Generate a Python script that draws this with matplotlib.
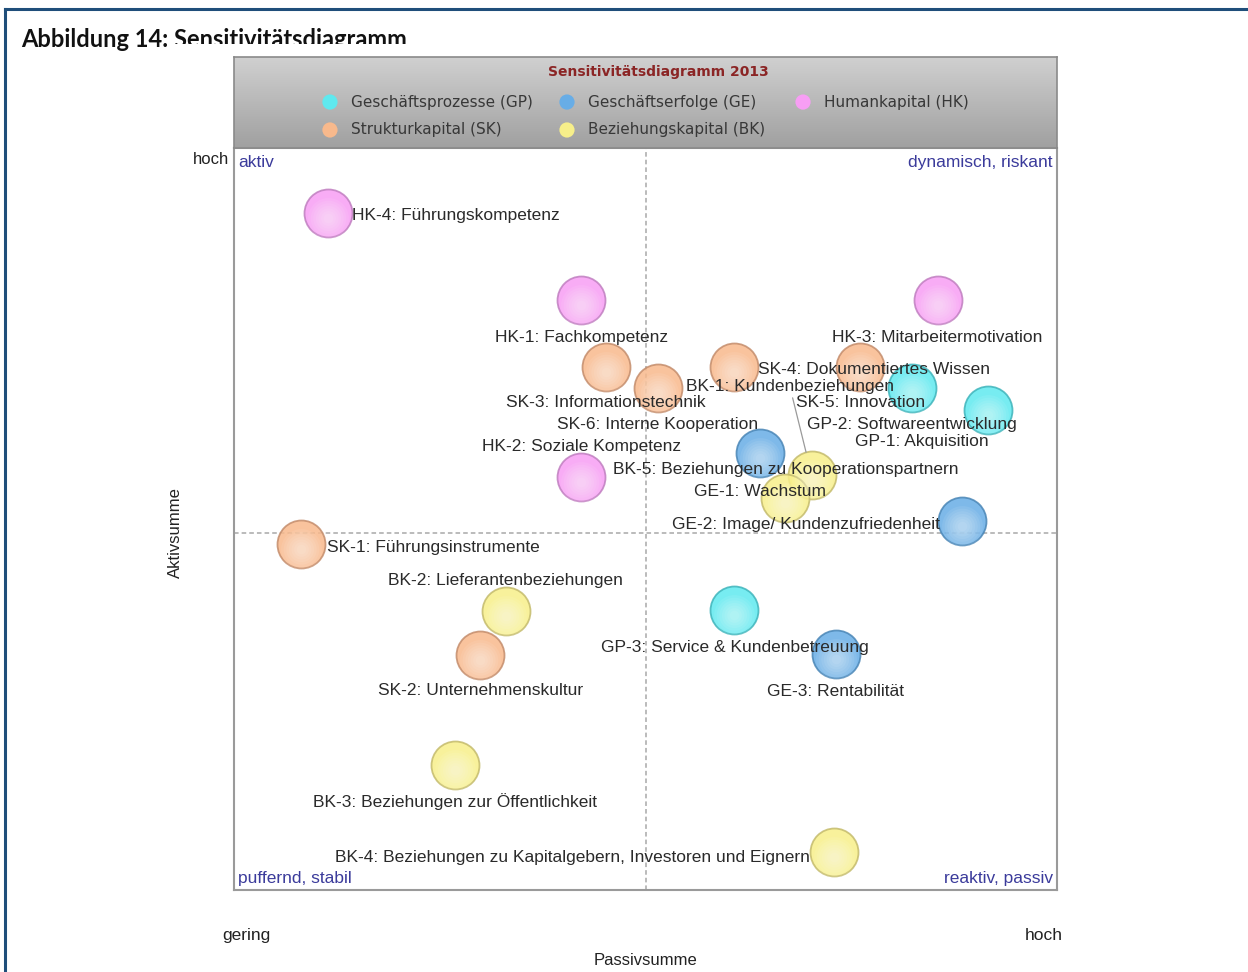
import numpy as np
import matplotlib.pyplot as plt
from matplotlib.colors import LinearSegmentedColormap
from matplotlib.lines import Line2D
from matplotlib.patches import Rectangle
from matplotlib.transforms import offset_copy

# Einflussfaktoren: Code, Bezeichnung, Passivsumme (x), Aktivsumme (y)
codes = ['GP-1', 'GP-2', 'GP-3',
         'GE-1', 'GE-2', 'GE-3',
         'HK-1', 'HK-2', 'HK-3', 'HK-4',
         'SK-1', 'SK-2', 'SK-3', 'SK-4', 'SK-5', 'SK-6',
         'BK-1', 'BK-2', 'BK-3', 'BK-4', 'BK-5']
namen = ['Akquisition', 'Softwareentwicklung', 'Service & Kundenbetreuung',
         'Wachstum', 'Image/ Kundenzufriedenheit', 'Rentabilität',
         'Fachkompetenz', 'Soziale Kompetenz', 'Mitarbeitermotivation', 'Führungskompetenz',
         'Führungsinstrumente', 'Unternehmenskultur', 'Informationstechnik',
         'Dokumentiertes Wissen', 'Innovation', 'Interne Kooperation',
         'Kundenbeziehungen', 'Lieferantenbeziehungen', 'Beziehungen zur Öffentlichkeit',
         'Beziehungen zu Kapitalgebern, Investoren und Eignern',
         'Beziehungen zu Kooperationspartnern']
passiv = [9.16, 8.24, 6.08,
          6.39, 8.85, 7.31,
          4.22, 4.22, 8.55, 1.14,
          0.81, 2.99, 4.52, 6.08, 7.61, 5.15,
          7.02, 3.30, 2.69, 7.29, 6.70]
aktiv = [6.47, 6.77, 3.77,
         5.89, 4.97, 3.18,
         7.95, 5.57, 7.95, 9.12,
         4.66, 3.17, 7.05, 7.05, 7.05, 6.77,
         5.59, 3.76, 1.68, 0.51, 5.28]

gruppen = ['GP', 'GE', 'HK', 'SK', 'BK']
gruppen_namen = ['Geschäftsprozesse (GP)', 'Geschäftserfolge (GE)', 'Humankapital (HK)',
                 'Strukturkapital (SK)', 'Beziehungskapital (BK)']
passiv_mitte = 5.0
aktiv_mitte = 4.81

farben = {'GP': ('#5fe9ef', '#3fb4bb'), 'GE': ('#68ade6', '#4a86b6'),
          'HK': ('#f79ef4', '#c07fc0'), 'SK': ('#f8b98c', '#c48d6c'),
          'BK': ('#f7ef8a', '#c4bb6c')}

# Beschriftungsversatz in Pixeln (dx, dy, Ausrichtung)
versatz = {'GP-1': (1, -32, 'right'), 'GP-2': (0, -37, 'center'), 'GP-3': (0, -37, 'center'),
           'GE-1': (0, -39, 'center'), 'GE-2': (-22, -3, 'right'), 'GE-3': (0, -37, 'center'),
           'HK-1': (0, -37, 'center'), 'HK-2': (0, 30, 'center'), 'HK-3': (0, -37, 'center'),
           'HK-4': (24, -2, 'left'),
           'SK-1': (26, -3, 'left'), 'SK-2': (0, -36, 'center'), 'SK-3': (0, -36, 'center'),
           'SK-4': (24, -3, 'left'), 'SK-5': (0, -36, 'center'), 'SK-6': (0, -37, 'center'),
           'BK-1': (-22, 89, 'center'), 'BK-2': (0, 31, 'center'), 'BK-3': (0, -36, 'center'),
           'BK-4': (-24, -5, 'right'), 'BK-5': (0, 29, 'center')}

W, H = 1248, 972


def fx(px):
    return px / W


def fy(py):
    return 1 - py / H


fig = plt.figure(figsize=(W / 100, H / 100), dpi=100)
plt.rcParams['font.family'] = ['Liberation Sans', 'DejaVu Sans']

# Rahmen der Abbildung
fig.add_artist(Line2D([fx(5), 1], [fy(9), fy(9)], color='#1f4e7a', lw=2.2))
fig.add_artist(Line2D([fx(5), fx(5)], [fy(9), 0], color='#1f4e7a', lw=2.2))
fig.text(fx(21), fy(47), 'Abbildung 14: Sensitivitätsdiagramm', fontsize=17,
         fontweight='bold', family='Lato', va='baseline', color='#111111')
fig.add_artist(Rectangle((fx(170), fy(55)), fx(260), fy(44.5) - fy(55),
                         facecolor='white', edgecolor='none', zorder=10))

# Diagrammfläche
ax = fig.add_axes([fx(234), fy(890), fx(1057) - fx(234), fy(148) - fy(890)])
ax.set_xlim(0, 10)
ax.set_ylim(0, 10)
ax.set_xticks([])
ax.set_yticks([])
for s in ax.spines.values():
    s.set_color('#9a9a9a')
    s.set_linewidth(1.5)

ax.axvline(passiv_mitte, color='#a8a8a8', lw=1.1, ls=(0, (3, 2)), zorder=1)
ax.axhline(aktiv_mitte, color='#a8a8a8', lw=1.1, ls=(0, (3, 2)), zorder=1)

groesse = 48 * 0.72
S = groesse ** 2
glanz = offset_copy(ax.transData, fig=fig, x=0, y=-5, units='dots')

for g in gruppen:
    idx = [i for i, c in enumerate(codes) if c.startswith(g)]
    x = [passiv[i] for i in idx]
    y = [aktiv[i] for i in idx]
    fc, ec = farben[g]
    ax.scatter(x, y, s=S, color=fc, alpha=0.85, edgecolor=ec, linewidth=1.3, zorder=3)
    for f in np.linspace(0.85, 0.2, 7):
        ax.scatter(x, y, s=S * f ** 2, color='white', alpha=0.08, linewidth=0,
                   zorder=3, transform=glanz)

for i, c in enumerate(codes):
    dx, dy, ha = versatz[c]
    pfeil = None
    if c == 'BK-1':
        pfeil = dict(arrowstyle='-', color='#9a9a9a', lw=0.9, shrinkA=1, shrinkB=17)
    ax.annotate(f'{c}: {namen[i]}', (passiv[i], aktiv[i]), xytext=(dx, dy),
                textcoords='offset pixels', ha=ha, va='center', fontsize=12.5,
                color='#2a2a2a', zorder=5, arrowprops=pfeil)

# Quadranten
blau = '#3b3b9b'
ax.text(0.005, 0.981, 'aktiv', transform=ax.transAxes, va='center', ha='left',
        fontsize=12.5, color=blau)
ax.text(0.995, 0.981, 'dynamisch, riskant', transform=ax.transAxes, va='center',
        ha='right', fontsize=12.5, color=blau)
ax.text(0.005, 0.016, 'puffernd, stabil', transform=ax.transAxes, va='center',
        ha='left', fontsize=12.5, color=blau)
ax.text(0.995, 0.016, 'reaktiv, passiv', transform=ax.transAxes, va='center',
        ha='right', fontsize=12.5, color=blau)

fig.text(fx(229), fy(159), 'hoch', ha='right', va='center', fontsize=12, color='#222222')
fig.text(fx(246), fy(935), 'gering', ha='center', va='center', fontsize=12.5, color='#222222')
fig.text(fx(1044), fy(935), 'hoch', ha='center', va='center', fontsize=12.5, color='#222222')
fig.text(fx(175), fy(533), 'Aktivsumme', ha='center', va='center', rotation=90,
         fontsize=12, color='#222222')
fig.text(fx(645), fy(960), 'Passivsumme', ha='center', va='center', fontsize=12,
         color='#222222')

# Legende mit grauem Verlauf
lax = fig.add_axes([fx(234), fy(148), fx(1057) - fx(234), fy(57) - fy(148)])
verlauf = np.linspace(0, 1, 100).reshape(-1, 1)
lax.imshow(verlauf, cmap=LinearSegmentedColormap.from_list('grau', ['#d0d0d0', '#a0a0a0']),
           extent=[0, 1, 0, 1], aspect='auto', origin='upper')
lax.set_xlim(0, 1)
lax.set_ylim(0, 1)
lax.set_xticks([])
lax.set_yticks([])
for s in lax.spines.values():
    s.set_color('#8a8a8a')
    s.set_linewidth(1.2)

lax.text(0.516, 0.835, 'Sensitivitätsdiagramm 2013', ha='center', va='center',
         fontsize=10, fontweight='bold', family='DejaVu Sans', color='#8b2525')
leg_x = [0.1166, 0.4046, 0.6914, 0.1166, 0.4046]
leg_y = [0.505, 0.505, 0.505, 0.198, 0.198]
for k, g in enumerate(gruppen):
    fc, ec = farben[g]
    lax.scatter([leg_x[k]], [leg_y[k]], s=120, color=fc, edgecolor='none', zorder=3)
    lax.text(leg_x[k] + 0.0256, leg_y[k], gruppen_namen[k], ha='left', va='center',
             fontsize=11, family='DejaVu Sans', color='#383838')

fig.savefig('out.png', dpi=100)
